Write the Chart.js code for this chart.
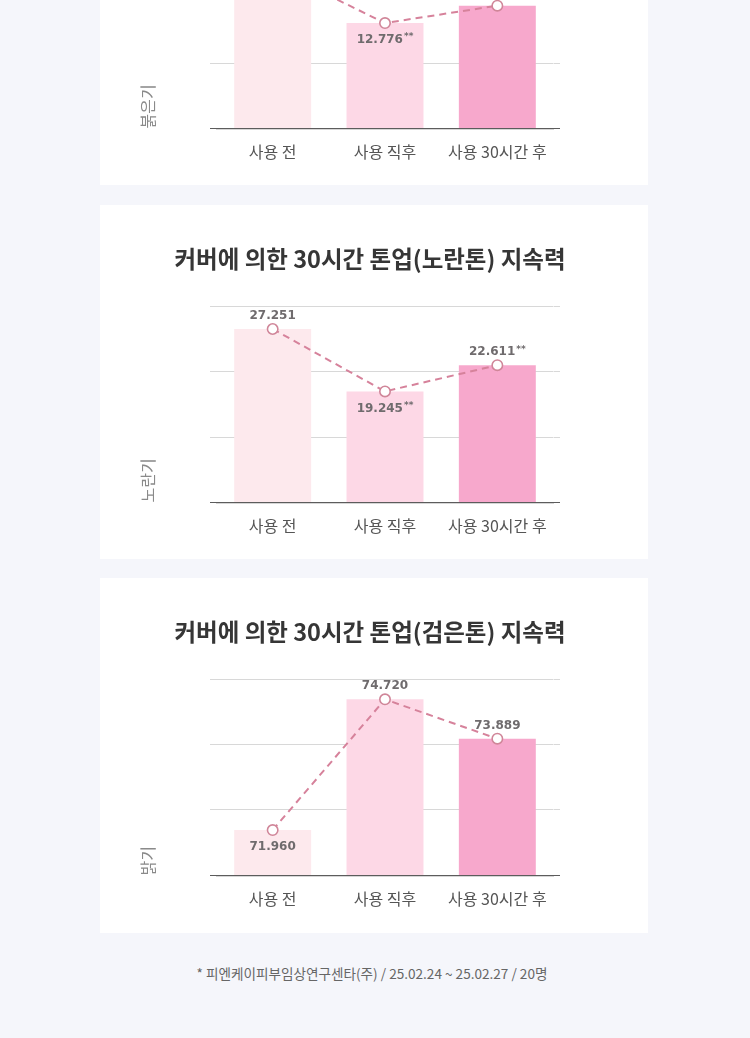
<!DOCTYPE html>
<html><head><meta charset="utf-8">
<script src="https://cdn.jsdelivr.net/npm/chart.js@4.4.1/dist/chart.umd.min.js"></script>
<style>
html,body{margin:0;padding:0;background:#f5f6fb;width:750px;height:1038px;overflow:hidden;position:relative;font-family:'Noto Sans CJK KR','Noto Sans',sans-serif}
.card{position:absolute;left:100px;width:548px;height:354px;background:#fff}
.card canvas{display:block}
.note{position:absolute;left:0;width:744px;top:964px;line-height:18px;text-align:center;font-size:13.6px;color:#666}
</style></head><body>
<div class="card" style="top:-169px"><canvas id="c1" width="548" height="354"></canvas></div>
<div class="card" style="top:205px"><canvas id="c2" width="548" height="354"></canvas></div>
<div class="card" style="top:578px;height:355px"><canvas id="c3" width="548" height="354"></canvas></div>
<div class="note">* 피엔케이피부임상연구센타(주) / 25.02.24 ~ 25.02.27 / 20명</div>
<script>
// ---- data ----
const categories = ['사용 전', '사용 직후', '사용 30시간 후'];
const chartTitles = ['커버에 의한 30시간 톤업(붉은톤) 지속력', '커버에 의한 30시간 톤업(노란톤) 지속력', '커버에 의한 30시간 톤업(검은톤) 지속력'];
const axisTitles = ['붉은기', '노란기', '밝기'];
const rednessValues = [14.12, 12.776, 13.2];
const yellownessValues = [27.251, 19.245, 22.611];
const brightnessValues = [71.960, 74.720, 73.889];
const rednessMarks = ['', '**', '**'];
const yellownessMarks = ['', '**', '**'];
const brightnessMarks = ['', '', ''];
const rednessRange = [10.2, 15.0];
const yellownessRange = [5, 30.2];
const brightnessRange = [71.0, 75.15];

// ---- styles ----
const FONT = "'Noto Sans CJK KR','Noto Sans',sans-serif";
const NUMFONT = "'DejaVu Sans', 'Noto Sans', sans-serif";
const barColors = ['#fde9ed', '#fdd8e6', '#f7a8cc'];
const GRID = '#d8d8d8', BASE = '#5c5c5c';
Chart.defaults.font.family = FONT;

const valueLabels = {
  id: 'valueLabels',
  afterDatasetsDraw(chart, args, opts) {
    const meta = chart.getDatasetMeta(1);
    const ds = chart.data.datasets[1];
    const ctx = chart.ctx;
    meta.data.forEach((pt, i) => {
      const num = ds.data[i].toFixed(3);
      const mark = opts.marks[i];
      const dy = opts.place[i] === 'below' ? 17 : -13;
      ctx.save();
      ctx.textBaseline = 'middle';
      ctx.textAlign = 'left';
      ctx.font = '700 12px ' + NUMFONT;
      const w1 = ctx.measureText(num).width;
      ctx.font = '700 9px ' + NUMFONT;
      const w2 = mark ? ctx.measureText(mark).width + 1 : 0;
      const x0 = pt.x - (w1 + w2) / 2;
      const y = pt.y + dy;
      ctx.fillStyle = '#6f6b6d';
      ctx.font = '700 12px ' + NUMFONT;
      ctx.fillText(num, x0, y);
      if (mark) {
        ctx.font = '700 9px ' + NUMFONT;
        ctx.fillText(mark, x0 + w1 + 1, y - 3);
      }
      ctx.restore();
    });
  }
};

function makeChart(id, values, marks, place, range, title, yTitle) {
  const buildTicks = (s) => { s.ticks = [0, 1, 2, 3].map(k => ({ value: range[0] + (range[1] - range[0]) * k / 3 })); };
  const gridColor = (c) => (c.index === 0 ? BASE : GRID);
  new Chart(document.getElementById(id), {
    data: {
      labels: categories,
      datasets: [
        { type: 'bar', data: values, backgroundColor: barColors, order: 1, categoryPercentage: 1, barPercentage: 0.685 },
        { type: 'line', data: values, borderColor: '#d6829b', borderWidth: 2, borderDash: [7, 5],
          pointRadius: 5.2, pointBackgroundColor: '#ffffff', pointBorderColor: '#d08699', pointBorderWidth: 1.6,
          order: 0, tension: 0 }
      ]
    },
    options: {
      responsive: false, animation: false, devicePixelRatio: 1,
      layout: { padding: { left: 0, right: 8, top: 0, bottom: 10.5 } },
      plugins: {
        legend: { display: false }, tooltip: { enabled: false },
        title: { display: true, text: title, color: '#363636', font: { family: FONT, size: 23.5, weight: '700' }, padding: { top: 39.9, bottom: 32.9 } },
        valueLabels: { marks: marks, place: place }
      },
      scales: {
        x: {
          grid: { display: false, drawTicks: false },
          border: { display: true, color: BASE, width: 1.3, z: 1 },
          ticks: { padding: 13.4, color: '#555555', font: { family: FONT, size: 16 } }
        },
        y: {
          min: range[0], max: range[1],
          afterBuildTicks: buildTicks,
          grid: { color: gridColor, drawTicks: true, tickLength: 6.5, lineWidth: 1 },
          border: { display: false },
          ticks: { display: false },
          title: { display: true, text: yTitle, align: 'start', color: '#8a8a8a', font: { family: FONT, size: 16 }, padding: { top: 38, bottom: 0 } },
          afterFit(s) { s.width = 116.5; }
        },
        y2: {
          position: 'right', display: true,
          min: range[0], max: range[1],
          afterBuildTicks: buildTicks,
          grid: { display: true, drawOnChartArea: false, drawTicks: true, tickLength: 6.5, color: gridColor, lineWidth: 1 },
          border: { display: false }, ticks: { display: false },
          afterFit(s) { s.width = 86.5; }
        }
      }
    },
    plugins: [valueLabels]
  });
}

makeChart('c1', rednessValues, rednessMarks, ['above', 'below', 'above'], rednessRange, chartTitles[0], axisTitles[0]);
makeChart('c2', yellownessValues, yellownessMarks, ['above', 'below', 'above'], yellownessRange, chartTitles[1], axisTitles[1]);
makeChart('c3', brightnessValues, brightnessMarks, ['below', 'above', 'above'], brightnessRange, chartTitles[2], axisTitles[2]);
</script>
</body></html>
